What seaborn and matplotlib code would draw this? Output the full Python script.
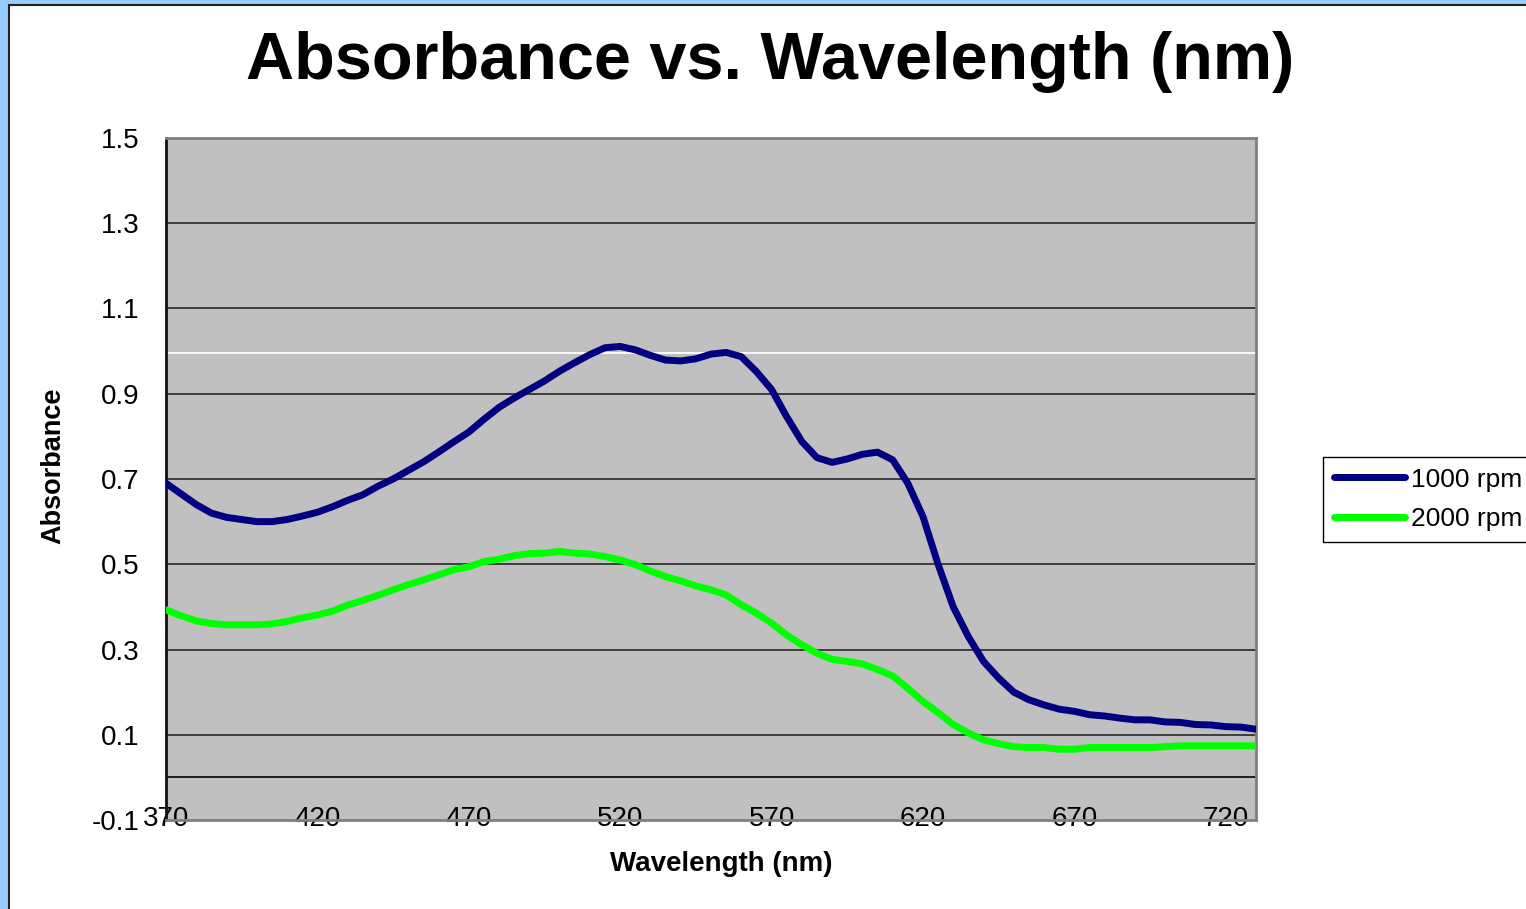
import numpy as np
import pandas as pd
import matplotlib
matplotlib.use("Agg")
import matplotlib.pyplot as plt
import matplotlib.patches as patches
import seaborn as sns

# wavelength sample points (nm)
wavelengths = np.arange(370, 731, 5)

abs_1000 = [0.69, 0.665, 0.64, 0.62, 0.61, 0.605, 0.60, 0.60, 0.605, 0.613,
            0.622, 0.635, 0.65, 0.663, 0.683, 0.70, 0.72, 0.74, 0.763, 0.787,
            0.81, 0.84, 0.868, 0.89, 0.91, 0.93, 0.953, 0.973, 0.992, 1.008,
            1.011, 1.003, 0.99, 0.979, 0.977, 0.982, 0.993, 0.997, 0.987, 0.952,
            0.91, 0.846, 0.788, 0.75, 0.739, 0.747, 0.758, 0.763, 0.745, 0.69,
            0.612, 0.50, 0.40, 0.33, 0.272, 0.233, 0.20, 0.182, 0.17, 0.16,
            0.155, 0.147, 0.144, 0.139, 0.135, 0.135, 0.13, 0.129, 0.124, 0.123,
            0.119, 0.118, 0.113]

abs_2000 = [0.393, 0.379, 0.367, 0.361, 0.358, 0.358, 0.358, 0.36, 0.366, 0.374,
            0.381, 0.39, 0.404, 0.415, 0.427, 0.44, 0.452, 0.463, 0.475, 0.487,
            0.494, 0.506, 0.512, 0.52, 0.525, 0.526, 0.53, 0.526, 0.524, 0.518,
            0.51, 0.499, 0.484, 0.471, 0.461, 0.449, 0.44, 0.428, 0.405, 0.385,
            0.362, 0.334, 0.311, 0.291, 0.277, 0.272, 0.266, 0.253, 0.238, 0.209,
            0.178, 0.152, 0.124, 0.104, 0.088, 0.079, 0.072, 0.07, 0.07, 0.066,
            0.066, 0.07, 0.07, 0.07, 0.07, 0.07, 0.072, 0.074, 0.074, 0.074,
            0.074, 0.074, 0.074]

series_names = ["1000 rpm", "2000 rpm"]
x_ticks = [370, 420, 470, 520, 570, 620, 670, 720]
y_ticks = [-0.1, 0.1, 0.3, 0.5, 0.7, 0.9, 1.1, 1.3, 1.5]

df = pd.DataFrame({
    "Wavelength": np.concatenate([wavelengths, wavelengths]),
    "Absorbance": abs_1000 + abs_2000,
    "Speed": [series_names[0]] * len(wavelengths) + [series_names[1]] * len(wavelengths),
})

sns.set_style("white")
plt.rcParams["font.family"] = ["Liberation Sans", "DejaVu Sans"]
plt.rcParams["text.color"] = "black"
plt.rcParams["axes.labelcolor"] = "black"

fig = plt.figure(figsize=(15.26, 9.09), dpi=100)
fig.patch.set_facecolor("#99CCFF")
frame = patches.Rectangle((9 / 1526, -0.01), 1.02, 1 - 4.5 / 909 + 0.01,
                          transform=fig.transFigure, facecolor="white",
                          edgecolor="#222222", linewidth=1.5, zorder=0)
fig.add_artist(frame)

ax = fig.add_axes([166 / 1526, 1 - 820 / 909, 1090 / 1526, 682 / 909])
ax.set_facecolor("#C0C0C0")

for yv in y_ticks[1:-1]:
    ax.axhline(yv, color="#333333", linewidth=1.3, zorder=1)
ax.axhline(0, color="#111111", linewidth=1.3, zorder=1)
ax.axhline(0.995, color="white", linewidth=1.3, zorder=1)

sns.lineplot(data=df, x="Wavelength", y="Absorbance", hue="Speed",
             palette={"1000 rpm": "#000080", "2000 rpm": "#00FF00"},
             linewidth=5, ax=ax, zorder=3, solid_capstyle="round")

ax.set_xlim(370, 730)
ax.set_ylim(-0.1, 1.5)
ax.set_xticks(x_ticks)
ax.set_xticklabels([str(t) for t in x_ticks])
ax.set_yticks(y_ticks)
ax.set_yticklabels([f"{t:.1f}" for t in y_ticks])
ax.tick_params(axis="both", length=0, labelsize=20, colors="black")
ax.tick_params(axis="x", pad=-10)
ax.tick_params(axis="y", pad=19)

for side in ["top", "right", "bottom"]:
    ax.spines[side].set_color("#808080")
    ax.spines[side].set_linewidth(2)
ax.spines["left"].set_color("#111111")
ax.spines["left"].set_linewidth(2)

ax.set_xlabel("Wavelength (nm)", fontsize=20, fontweight="bold")
ax.xaxis.set_label_coords(0.509, -0.065)
ax.xaxis.label.set_va("center")
ax.set_ylabel("Absorbance", fontsize=19.5, fontweight="bold")
ax.yaxis.set_label_coords(-0.103, 0.52)
ax.yaxis.label.set_va("center")

fig.text(770 / 1526, 1 - 62 / 909, "Absorbance vs. Wavelength (nm)",
         ha="center", va="center", fontsize=48, fontweight="bold", color="black")

handles, labels = ax.get_legend_handles_labels()
ax.legend_.remove()
for h in handles:
    h.set_linewidth(5)
    h.set_solid_capstyle("round")
leg = fig.legend(handles, labels, loc="upper left",
                 bbox_to_anchor=(1323 / 1526, 1 - 457 / 909),
                 fontsize=19, frameon=True, fancybox=False, framealpha=1,
                 edgecolor="black", borderpad=0.4, borderaxespad=0,
                 handlelength=2.7, handletextpad=0.25, labelspacing=0.6)
leg.get_frame().set_linewidth(1.0)

fig.savefig("out.png", dpi=100, facecolor=fig.get_facecolor())
